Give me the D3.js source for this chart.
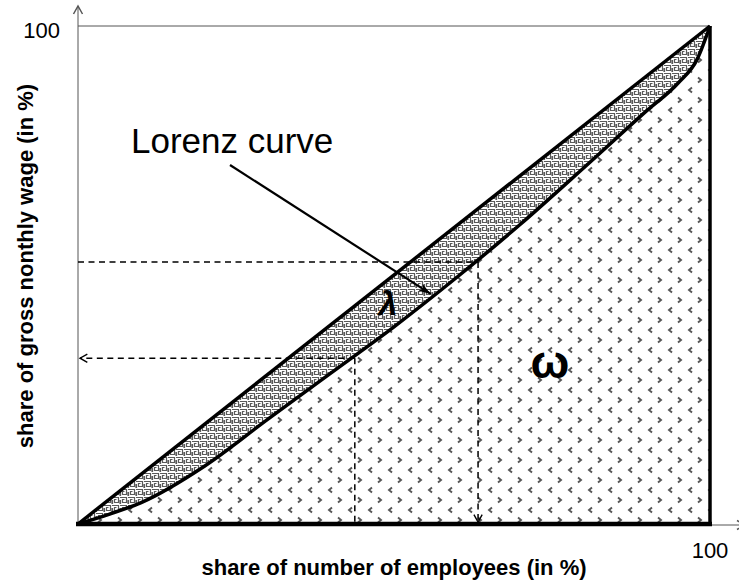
<!DOCTYPE html>
<html>
<head>
<meta charset="utf-8">
<script src="https://cdn.jsdelivr.net/npm/d3@7"></script>
<style>
  body { margin: 0; background: #fff; }
  text { font-family: "Liberation Sans", Arial, sans-serif; }
</style>
</head>
<body>
<div id="vis"></div>
<script>
// Lorenz curve, share of employees (x, %) vs share of wage (y, %)
var lorenzX = [0, 5, 10, 20, 30, 40, 50, 60, 70, 80, 90, 95, 98, 100]
var lorenzY = [0, 2.0, 4.3, 11.6, 21.0, 30.3, 39.6, 49.6, 60.2, 71.5, 83.0, 88.6, 93.4, 100]

// dashed guide points on the curve
var guideX = [43.8, 63.3]
var guideY = [33.3, 52.6]
var guideArrow = ['left', 'down']

var tickLabels = ['100']
var xTitle = 'share of number of employees (in %)'
var yTitle = 'share of gross nonthly wage (in %)'

var width = 739, height = 586

var x = d3.scaleLinear().domain([0, 100]).range([78, 710])
var y = d3.scaleLinear().domain([0, 100]).range([524, 26])

var svg = d3.select('#vis').append('svg')
    .attr('width', width)
    .attr('height', height)

var defs = svg.append('defs')

// maze pattern for the lambda band
var maze = defs.append('pattern')
    .attr('id', 'maze')
    .attr('patternUnits', 'userSpaceOnUse')
    .attr('width', 8).attr('height', 8)
maze.append('rect').attr('width', 8).attr('height', 8).attr('fill', '#fff')
maze.append('path')
    .attr('d', 'M0,1.5H6.5V6.5H2.5V3.5H4.5M0.5,4V8M8,4V8')
    .attr('fill', 'none')
    .attr('stroke', '#5a5a5a')
    .attr('stroke-width', 1.2)

// chevron pattern for the omega area
var dots = defs.append('pattern')
    .attr('id', 'dots')
    .attr('patternUnits', 'userSpaceOnUse')
    .attr('x', -5).attr('y', -5)
    .attr('width', 20).attr('height', 20)
dots.append('rect').attr('width', 20).attr('height', 20).attr('fill', '#fff')
dots.append('path')
    .attr('d', 'M17,12.5L14,15L17,17.5')
    .attr('fill', 'none').attr('stroke', '#555').attr('stroke-width', 1.9)
dots.append('path')
    .attr('d', 'M3,2.5L6,5L3,7.5')
    .attr('fill', 'none').attr('stroke', '#555').attr('stroke-width', 1.9)

// arrow markers
function chevron(id, color, size) {
    defs.append('marker')
        .attr('id', id)
        .attr('viewBox', '-10 -6 12 12')
        .attr('refX', 0).attr('refY', 0)
        .attr('markerWidth', size).attr('markerHeight', size)
        .attr('markerUnits', 'userSpaceOnUse')
        .attr('orient', 'auto')
        .append('path')
        .attr('d', 'M-8,-4.5L0,0L-8,4.5')
        .attr('fill', 'none')
        .attr('stroke', color)
        .attr('stroke-width', 1.5)
}
chevron('arrGray', '#555', 12)
chevron('arrBlack', '#000', 11)

defs.append('marker')
    .attr('id', 'arrSolid')
    .attr('viewBox', '-12 -5 14 10')
    .attr('refX', 0).attr('refY', 0)
    .attr('markerWidth', 14).attr('markerHeight', 10)
    .attr('markerUnits', 'userSpaceOnUse')
    .attr('orient', 'auto')
    .append('path')
    .attr('d', 'M-12,-4L0,0L-12,4L-9,0Z')
    .attr('fill', '#000')

var pts = lorenzX.map(function (d, i) { return { x: d, y: lorenzY[i] } })

// omega area under the curve
svg.append('path')
    .datum(pts)
    .attr('d', d3.area()
        .x(function (d) { return x(d.x) })
        .y0(y(0))
        .y1(function (d) { return y(d.y) })
        .curve(d3.curveMonotoneX))
    .attr('fill', 'url(#dots)')

// lambda band between diagonal and curve
svg.append('path')
    .datum(pts)
    .attr('d', d3.area()
        .x(function (d) { return x(d.x) })
        .y0(function (d) { return y(d.y) })
        .y1(function (d) { return y(d.x) })
        .curve(d3.curveMonotoneX))
    .attr('fill', 'url(#maze)')

// gray frame: y axis, top line, x axis
svg.append('line')
    .attr('x1', x(0)).attr('y1', y(0))
    .attr('x2', x(0)).attr('y2', 6)
    .attr('stroke', '#555').attr('stroke-width', 1)
    .attr('marker-end', 'url(#arrGray)')
svg.append('line')
    .attr('x1', x(0)).attr('y1', y(100))
    .attr('x2', x(100)).attr('y2', y(100))
    .attr('stroke', '#555').attr('stroke-width', 1)
svg.append('line')
    .attr('x1', x(0)).attr('y1', y(0) + 1)
    .attr('x2', width + 6).attr('y2', y(0) + 1)
    .attr('stroke', '#555').attr('stroke-width', 1)
    .attr('marker-end', 'url(#arrGray)')

// dashed guides
guideX.forEach(function (gx, i) {
    var gy = guideY[i]
    var h = svg.append('line')
        .attr('stroke', '#000').attr('stroke-width', 1.5)
        .attr('stroke-dasharray', '6,4.5')
    var v = svg.append('line')
        .attr('stroke', '#000').attr('stroke-width', 1.5)
        .attr('stroke-dasharray', '6,4.5')
    if (guideArrow[i] == 'left') {
        h.attr('x1', x(gx)).attr('y1', y(gy)).attr('x2', x(0) + 2).attr('y2', y(gy))
            .attr('marker-end', 'url(#arrBlack)')
        v.attr('x1', x(gx)).attr('y1', y(gy)).attr('x2', x(gx)).attr('y2', y(0))
    } else {
        h.attr('x1', x(0)).attr('y1', y(gy)).attr('x2', x(gx)).attr('y2', y(gy))
        v.attr('x1', x(gx)).attr('y1', y(gy)).attr('x2', x(gx)).attr('y2', y(0) - 2)
            .attr('marker-end', 'url(#arrBlack)')
    }
})

// thick black lines
svg.append('line')
    .attr('x1', x(0)).attr('y1', y(0))
    .attr('x2', x(100)).attr('y2', y(100))
    .attr('stroke', '#000').attr('stroke-width', 3.5)
svg.append('path')
    .datum(pts)
    .attr('d', d3.line()
        .x(function (d) { return x(d.x) })
        .y(function (d) { return y(d.y) })
        .curve(d3.curveMonotoneX))
    .attr('fill', 'none')
    .attr('stroke', '#000').attr('stroke-width', 3.5)
svg.append('line')
    .attr('x1', x(0) - 2).attr('y1', y(0))
    .attr('x2', x(100) + 2).attr('y2', y(0))
    .attr('stroke', '#000').attr('stroke-width', 4.5)
svg.append('line')
    .attr('x1', x(100)).attr('y1', y(0))
    .attr('x2', x(100)).attr('y2', y(100))
    .attr('stroke', '#000').attr('stroke-width', 3.5)

// Lorenz curve annotation
svg.append('text')
    .attr('x', 131).attr('y', 153)
    .attr('font-size', 35)
    .text('Lorenz curve')
svg.append('line')
    .attr('x1', 230).attr('y1', 165)
    .attr('x2', x(55.8)).attr('y2', y(46.2))
    .attr('stroke', '#000').attr('stroke-width', 2.2)
    .attr('marker-end', 'url(#arrSolid)')

svg.append('text')
    .attr('x', 388).attr('y', 315)
    .attr('text-anchor', 'middle')
    .attr('font-family', '"Liberation Serif", "Times New Roman", serif')
    .attr('font-weight', 'bold')
    .attr('font-style', 'italic')
    .attr('font-size', 34)
    .text('λ')
svg.append('text')
    .attr('x', 550).attr('y', 378)
    .attr('text-anchor', 'middle')
    .attr('font-weight', 'bold')
    .attr('font-size', 46)
    .text('ω')

// tick labels
svg.append('text')
    .attr('x', 60).attr('y', 38)
    .attr('text-anchor', 'end')
    .attr('font-size', 22)
    .text(tickLabels[0])
svg.append('text')
    .attr('x', x(100)).attr('y', 558)
    .attr('text-anchor', 'middle')
    .attr('font-size', 22)
    .text(tickLabels[0])

// axis titles
svg.append('text')
    .attr('x', 394).attr('y', 575)
    .attr('text-anchor', 'middle')
    .attr('font-weight', 'bold')
    .attr('font-size', 22)
    .text(xTitle)
svg.append('text')
    .attr('transform', 'translate(33,266) rotate(-90)')
    .attr('text-anchor', 'middle')
    .attr('font-weight', 'bold')
    .attr('font-size', 22)
    .text(yTitle)
</script>
</body>
</html>
